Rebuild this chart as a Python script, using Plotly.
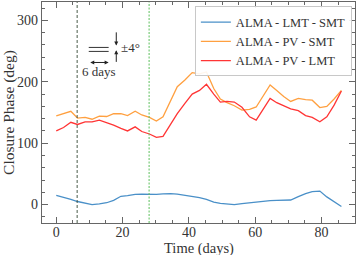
import plotly.graph_objects as go

# ---- data ----
time_days = [0, 2.2, 4.4, 6.4, 8.7, 10.8, 13, 15.2, 17.3, 19.5, 21.5, 23.8, 25.8, 28.1,
             30.2, 32.2, 34.5, 36.5, 38.8, 41, 43.2, 45.3, 47.5, 49.5, 51.5, 53.7, 56,
             58.3, 60.3, 62.5, 64.5, 66.5, 68.6, 70.7, 73, 75.2, 77.2, 79.5, 81.6, 83.8, 86]

lmt_smt = [15, 12, 8.5, 5, 2, 0, 1, 3, 7, 13.5, 14.5, 16.5, 17, 16.3,
           16.5, 17.5, 18, 17, 15, 14, 11.5, 8.5, 4, 2, 1, 0, 1.5,
           3, 4, 5, 6.5, 7, 7, 7.5, 13, 18, 21, 22, 12.5, 5, -3]

pv_smt = [144.5, 148, 152, 141, 142, 139, 144, 143.5, 148, 148, 145, 152, 146, 142,
          136, 143, 168, 192, 203, 215, 213, 216, 189, 172, 166, 161, 154,
          155, 159, 177, 195, 186, 176, 168, 173, 171, 170, 158, 160, 172, 186]

pv_lmt = [120, 125.6, 134, 130.5, 134.8, 134.8, 137.5, 134, 129.4, 124, 120, 126.6, 119, 115,
          109.5, 111, 132, 148, 165, 180, 186, 196, 180, 167, 168, 167, 158.5,
          143, 137.5, 155, 173, 166, 161, 156, 153, 145, 142, 135, 143, 162, 185]

series_names = ["ALMA - LMT - SMT", "ALMA - PV - SMT", "ALMA - PV - LMT"]
series_colors = ["#4a90c8", "#ffa040", "#ff3535"]

vline_days = [6.3, 28.0]
x_ticks = [0, 20, 40, 60, 80]
y_ticks = [0, 100, 200, 300]

FONT = "Liberation Serif, DejaVu Serif, serif"

fig = go.Figure()
for name, vals, col in zip(series_names, [lmt_smt, pv_smt, pv_lmt], series_colors):
    fig.add_trace(go.Scatter(x=time_days, y=vals, mode="lines", name=name,
                             line=dict(color=col, width=1.3)))

# vertical reference lines
fig.add_vline(x=vline_days[0], line=dict(color="#354a35", width=0.9, dash="3px,2px"))
fig.add_vline(x=vline_days[1], line=dict(color="#5cbf5c", width=1, dash="2px,1.5px"))

# scale annotation: two parallel lines 4 deg apart, 6 days long
ann_x0, ann_x1 = 9.8, 15.8
ann_y_top, ann_y_bot = 256, 249.5
for yy in (ann_y_top, ann_y_bot):
    fig.add_shape(type="line", x0=ann_x0, x1=ann_x1, y0=yy, y1=yy,
                  line=dict(color="#333", width=1))

arrow_x = 18.1
fig.add_annotation(x=arrow_x, y=ann_y_top + 3, ax=arrow_x, ay=283, xref="x", yref="y",
                   axref="x", ayref="y", showarrow=True, arrowhead=2, arrowsize=0.8,
                   arrowwidth=1, arrowcolor="#222", text="")
fig.add_annotation(x=arrow_x, y=ann_y_bot + 2, ax=arrow_x, ay=230, xref="x", yref="y",
                   axref="x", ayref="y", showarrow=True, arrowhead=2, arrowsize=0.8,
                   arrowwidth=1, arrowcolor="#222", text="")
fig.add_annotation(x=ann_x1, y=231.5, ax=ann_x0, ay=231.5, xref="x", yref="y",
                   axref="x", ayref="y", showarrow=True, arrowhead=2, arrowsize=0.8,
                   arrowwidth=1, arrowcolor="#222", startarrowhead=2, startarrowsize=0.8,
                   arrowside="end+start", text="")
fig.add_annotation(x=18.9, y=256, xref="x", yref="y", text="±4°", showarrow=False,
                   xanchor="left", yanchor="middle", font=dict(family=FONT, size=13, color="#333"))
fig.add_annotation(x=12.8, y=216, xref="x", yref="y", text="6 days", showarrow=False,
                   xanchor="center", yanchor="middle", font=dict(family=FONT, size=13, color="#333"))

# x-axis title as annotation for precise placement
fig.add_annotation(x=0.5, y=0, xref="paper", yref="paper", text="Time (days)", showarrow=False,
                   xanchor="center", yanchor="top", yshift=-15,
                   font=dict(family=FONT, size=14.5, color="#333"))

axis_common = dict(showline=True, linecolor="#666", linewidth=1.3, mirror="allticks",
                   ticks="inside", ticklen=6, tickcolor="#666", showgrid=False, zeroline=False,
                   tickfont=dict(family=FONT, size=14, color="#333"))

fig.update_xaxes(range=[-4.3, 90.1], tickvals=x_ticks, ticklabelstandoff=-4,
                 minor=dict(dtick=5, tick0=0, ticks="inside", ticklen=3, tickcolor="#666"),
                 **axis_common)
fig.update_yaxes(range=[-30, 330], tickvals=y_ticks,
                 minor=dict(dtick=20, tick0=0, ticks="inside", ticklen=3, tickcolor="#666"),
                 title=dict(text="Closure Phase (deg)", font=dict(family=FONT, size=15.5, color="#333"),
                            standoff=2),
                 **axis_common)

fig.update_layout(
    width=357, height=255,
    margin=dict(l=42, r=2, t=2, b=32, autoexpand=False),
    plot_bgcolor="white", paper_bgcolor="white",
    font=dict(family=FONT, color="#333"),
    legend=dict(x=0.99, y=0.98, xanchor="right", yanchor="top",
                bordercolor="#c8c8c8", borderwidth=1, bgcolor="rgba(255,255,255,0.9)",
                font=dict(family=FONT, size=12.5, color="#333"),
                tracegroupgap=0, itemwidth=30),
    showlegend=True,
)

fig.write_html("out.html", config={"displayModeBar": False},
               post_script="document.body.style.margin='0';document.body.style.padding='0';")
